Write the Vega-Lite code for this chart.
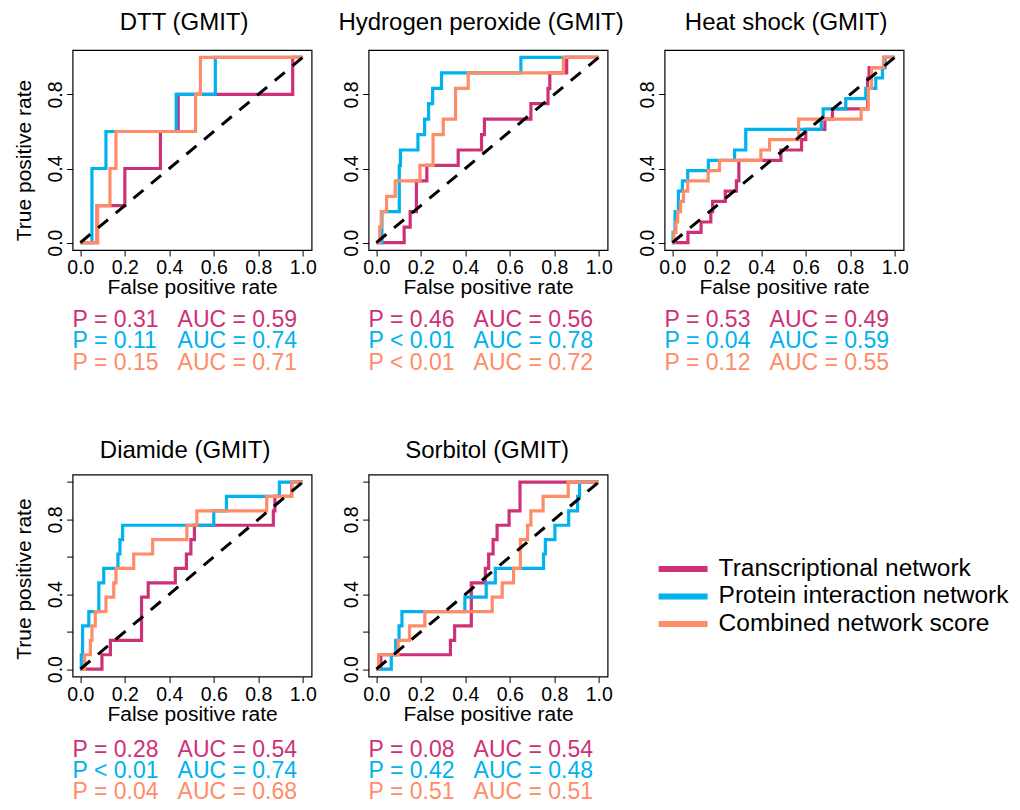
{
 "$schema": "https://vega.github.io/schema/vega-lite/v6.json",
 "background": "white",
 "padding": {"left": 12.6, "top": 10, "right": 0, "bottom": 0},
 "datasets": {
  "roc": [
   {"p":"DTT","s":"T","fpr":0,"tpr":0},{"p":"DTT","s":"T","fpr":0.075,"tpr":0.2},{"p":"DTT","s":"T","fpr":0.2,"tpr":0.4},{"p":"DTT","s":"T","fpr":0.36,"tpr":0.6},{"p":"DTT","s":"T","fpr":0.44,"tpr":0.8},{"p":"DTT","s":"T","fpr":0.955,"tpr":1},{"p":"DTT","s":"T","fpr":1,"tpr":1},
   {"p":"H2O2","s":"T","fpr":0,"tpr":0},{"p":"H2O2","s":"T","fpr":0.125,"tpr":0.0833},{"p":"H2O2","s":"T","fpr":0.152,"tpr":0.1667},{"p":"H2O2","s":"T","fpr":0.18,"tpr":0.3333},{"p":"H2O2","s":"T","fpr":0.227,"tpr":0.4167},{"p":"H2O2","s":"T","fpr":0.368,"tpr":0.5},{"p":"H2O2","s":"T","fpr":0.473,"tpr":0.5833},{"p":"H2O2","s":"T","fpr":0.486,"tpr":0.6667},{"p":"H2O2","s":"T","fpr":0.695,"tpr":0.75},{"p":"H2O2","s":"T","fpr":0.772,"tpr":0.8333},{"p":"H2O2","s":"T","fpr":0.78,"tpr":0.9167},{"p":"H2O2","s":"T","fpr":0.856,"tpr":1},{"p":"H2O2","s":"T","fpr":1,"tpr":1},
   {"p":"Heat","s":"T","fpr":0,"tpr":0},{"p":"Heat","s":"T","fpr":0.07,"tpr":0.0556},{"p":"Heat","s":"T","fpr":0.129,"tpr":0.1111},{"p":"Heat","s":"T","fpr":0.173,"tpr":0.1667},{"p":"Heat","s":"T","fpr":0.181,"tpr":0.2222},{"p":"Heat","s":"T","fpr":0.238,"tpr":0.2778},{"p":"Heat","s":"T","fpr":0.288,"tpr":0.3333},{"p":"Heat","s":"T","fpr":0.299,"tpr":0.4444},{"p":"Heat","s":"T","fpr":0.488,"tpr":0.5},{"p":"Heat","s":"T","fpr":0.581,"tpr":0.5556},{"p":"Heat","s":"T","fpr":0.6,"tpr":0.6111},{"p":"Heat","s":"T","fpr":0.686,"tpr":0.6667},{"p":"Heat","s":"T","fpr":0.72,"tpr":0.7222},{"p":"Heat","s":"T","fpr":0.878,"tpr":0.8889},{"p":"Heat","s":"T","fpr":0.885,"tpr":0.9444},{"p":"Heat","s":"T","fpr":0.95,"tpr":1},{"p":"Heat","s":"T","fpr":1,"tpr":1},
   {"p":"Diamide","s":"T","fpr":0,"tpr":0},{"p":"Diamide","s":"T","fpr":0.097,"tpr":0.0769},{"p":"Diamide","s":"T","fpr":0.135,"tpr":0.1538},{"p":"Diamide","s":"T","fpr":0.275,"tpr":0.3846},{"p":"Diamide","s":"T","fpr":0.305,"tpr":0.4615},{"p":"Diamide","s":"T","fpr":0.427,"tpr":0.5385},{"p":"Diamide","s":"T","fpr":0.477,"tpr":0.6154},{"p":"Diamide","s":"T","fpr":0.497,"tpr":0.6923},{"p":"Diamide","s":"T","fpr":0.513,"tpr":0.7692},{"p":"Diamide","s":"T","fpr":0.868,"tpr":0.8462},{"p":"Diamide","s":"T","fpr":0.875,"tpr":0.9231},{"p":"Diamide","s":"T","fpr":0.95,"tpr":1},{"p":"Diamide","s":"T","fpr":1,"tpr":1},
   {"p":"Sorbitol","s":"T","fpr":0,"tpr":0},{"p":"Sorbitol","s":"T","fpr":0.02,"tpr":0.0769},{"p":"Sorbitol","s":"T","fpr":0.333,"tpr":0.1538},{"p":"Sorbitol","s":"T","fpr":0.352,"tpr":0.2308},{"p":"Sorbitol","s":"T","fpr":0.427,"tpr":0.4615},{"p":"Sorbitol","s":"T","fpr":0.49,"tpr":0.5385},{"p":"Sorbitol","s":"T","fpr":0.505,"tpr":0.6154},{"p":"Sorbitol","s":"T","fpr":0.525,"tpr":0.6923},{"p":"Sorbitol","s":"T","fpr":0.543,"tpr":0.7692},{"p":"Sorbitol","s":"T","fpr":0.597,"tpr":0.8462},{"p":"Sorbitol","s":"T","fpr":0.646,"tpr":1},{"p":"Sorbitol","s":"T","fpr":1,"tpr":1},

   {"p":"DTT","s":"P","fpr":0,"tpr":0},{"p":"DTT","s":"P","fpr":0.052,"tpr":0.4},{"p":"DTT","s":"P","fpr":0.115,"tpr":0.6},{"p":"DTT","s":"P","fpr":0.431,"tpr":0.8},{"p":"DTT","s":"P","fpr":0.607,"tpr":1},{"p":"DTT","s":"P","fpr":1,"tpr":1},
   {"p":"H2O2","s":"P","fpr":0,"tpr":0},{"p":"H2O2","s":"P","fpr":0.025,"tpr":0.1667},{"p":"H2O2","s":"P","fpr":0.103,"tpr":0.4167},{"p":"H2O2","s":"P","fpr":0.108,"tpr":0.5},{"p":"H2O2","s":"P","fpr":0.187,"tpr":0.5833},{"p":"H2O2","s":"P","fpr":0.217,"tpr":0.6667},{"p":"H2O2","s":"P","fpr":0.235,"tpr":0.75},{"p":"H2O2","s":"P","fpr":0.253,"tpr":0.8333},{"p":"H2O2","s":"P","fpr":0.293,"tpr":0.9167},{"p":"H2O2","s":"P","fpr":0.65,"tpr":1},{"p":"H2O2","s":"P","fpr":1,"tpr":1},
   {"p":"Heat","s":"P","fpr":0,"tpr":0},{"p":"Heat","s":"P","fpr":0.003,"tpr":0.0556},{"p":"Heat","s":"P","fpr":0.012,"tpr":0.1667},{"p":"Heat","s":"P","fpr":0.027,"tpr":0.2778},{"p":"Heat","s":"P","fpr":0.045,"tpr":0.3333},{"p":"Heat","s":"P","fpr":0.069,"tpr":0.3889},{"p":"Heat","s":"P","fpr":0.162,"tpr":0.4444},{"p":"Heat","s":"P","fpr":0.28,"tpr":0.5},{"p":"Heat","s":"P","fpr":0.33,"tpr":0.6111},{"p":"Heat","s":"P","fpr":0.67,"tpr":0.6667},{"p":"Heat","s":"P","fpr":0.678,"tpr":0.7222},{"p":"Heat","s":"P","fpr":0.78,"tpr":0.7778},{"p":"Heat","s":"P","fpr":0.87,"tpr":0.8333},{"p":"Heat","s":"P","fpr":0.915,"tpr":0.8889},{"p":"Heat","s":"P","fpr":0.945,"tpr":0.9444},{"p":"Heat","s":"P","fpr":0.957,"tpr":1},{"p":"Heat","s":"P","fpr":1,"tpr":1},
   {"p":"Diamide","s":"P","fpr":0,"tpr":0},{"p":"Diamide","s":"P","fpr":0.004,"tpr":0.0769},{"p":"Diamide","s":"P","fpr":0.01,"tpr":0.2308},{"p":"Diamide","s":"P","fpr":0.038,"tpr":0.3077},{"p":"Diamide","s":"P","fpr":0.083,"tpr":0.4615},{"p":"Diamide","s":"P","fpr":0.105,"tpr":0.5385},{"p":"Diamide","s":"P","fpr":0.169,"tpr":0.6154},{"p":"Diamide","s":"P","fpr":0.178,"tpr":0.6923},{"p":"Diamide","s":"P","fpr":0.19,"tpr":0.7692},{"p":"Diamide","s":"P","fpr":0.6,"tpr":0.8462},{"p":"Diamide","s":"P","fpr":0.657,"tpr":0.9231},{"p":"Diamide","s":"P","fpr":0.895,"tpr":1},{"p":"Diamide","s":"P","fpr":1,"tpr":1},
   {"p":"Sorbitol","s":"P","fpr":0,"tpr":0},{"p":"Sorbitol","s":"P","fpr":0.067,"tpr":0.0769},{"p":"Sorbitol","s":"P","fpr":0.087,"tpr":0.1538},{"p":"Sorbitol","s":"P","fpr":0.102,"tpr":0.2308},{"p":"Sorbitol","s":"P","fpr":0.115,"tpr":0.3077},{"p":"Sorbitol","s":"P","fpr":0.398,"tpr":0.3846},{"p":"Sorbitol","s":"P","fpr":0.494,"tpr":0.4615},{"p":"Sorbitol","s":"P","fpr":0.535,"tpr":0.5385},{"p":"Sorbitol","s":"P","fpr":0.752,"tpr":0.6154},{"p":"Sorbitol","s":"P","fpr":0.76,"tpr":0.6923},{"p":"Sorbitol","s":"P","fpr":0.803,"tpr":0.7692},{"p":"Sorbitol","s":"P","fpr":0.865,"tpr":0.8462},{"p":"Sorbitol","s":"P","fpr":0.905,"tpr":0.9231},{"p":"Sorbitol","s":"P","fpr":0.914,"tpr":1},{"p":"Sorbitol","s":"P","fpr":1,"tpr":1},

   {"p":"DTT","s":"C","fpr":0,"tpr":0},{"p":"DTT","s":"C","fpr":0.078,"tpr":0.2},{"p":"DTT","s":"C","fpr":0.133,"tpr":0.4},{"p":"DTT","s":"C","fpr":0.16,"tpr":0.6},{"p":"DTT","s":"C","fpr":0.518,"tpr":0.8},{"p":"DTT","s":"C","fpr":0.54,"tpr":1},{"p":"DTT","s":"C","fpr":1,"tpr":1},
   {"p":"H2O2","s":"C","fpr":0,"tpr":0},{"p":"H2O2","s":"C","fpr":0.015,"tpr":0.0833},{"p":"H2O2","s":"C","fpr":0.022,"tpr":0.1667},{"p":"H2O2","s":"C","fpr":0.046,"tpr":0.25},{"p":"H2O2","s":"C","fpr":0.085,"tpr":0.3333},{"p":"H2O2","s":"C","fpr":0.196,"tpr":0.4167},{"p":"H2O2","s":"C","fpr":0.255,"tpr":0.5833},{"p":"H2O2","s":"C","fpr":0.301,"tpr":0.6667},{"p":"H2O2","s":"C","fpr":0.356,"tpr":0.8333},{"p":"H2O2","s":"C","fpr":0.413,"tpr":0.9167},{"p":"H2O2","s":"C","fpr":0.841,"tpr":1},{"p":"H2O2","s":"C","fpr":1,"tpr":1},
   {"p":"Heat","s":"C","fpr":0,"tpr":0},{"p":"Heat","s":"C","fpr":0.007,"tpr":0.0556},{"p":"Heat","s":"C","fpr":0.016,"tpr":0.1111},{"p":"Heat","s":"C","fpr":0.024,"tpr":0.1667},{"p":"Heat","s":"C","fpr":0.037,"tpr":0.2222},{"p":"Heat","s":"C","fpr":0.05,"tpr":0.2778},{"p":"Heat","s":"C","fpr":0.069,"tpr":0.3333},{"p":"Heat","s":"C","fpr":0.161,"tpr":0.3889},{"p":"Heat","s":"C","fpr":0.212,"tpr":0.4444},{"p":"Heat","s":"C","fpr":0.398,"tpr":0.5},{"p":"Heat","s":"C","fpr":0.437,"tpr":0.5556},{"p":"Heat","s":"C","fpr":0.568,"tpr":0.6667},{"p":"Heat","s":"C","fpr":0.849,"tpr":0.7222},{"p":"Heat","s":"C","fpr":0.881,"tpr":0.8333},{"p":"Heat","s":"C","fpr":0.896,"tpr":0.9444},{"p":"Heat","s":"C","fpr":0.95,"tpr":1},{"p":"Heat","s":"C","fpr":1,"tpr":1},
   {"p":"Diamide","s":"C","fpr":0,"tpr":0},{"p":"Diamide","s":"C","fpr":0.019,"tpr":0.0769},{"p":"Diamide","s":"C","fpr":0.045,"tpr":0.1538},{"p":"Diamide","s":"C","fpr":0.052,"tpr":0.2308},{"p":"Diamide","s":"C","fpr":0.067,"tpr":0.3077},{"p":"Diamide","s":"C","fpr":0.115,"tpr":0.3846},{"p":"Diamide","s":"C","fpr":0.15,"tpr":0.4615},{"p":"Diamide","s":"C","fpr":0.16,"tpr":0.5385},{"p":"Diamide","s":"C","fpr":0.24,"tpr":0.6154},{"p":"Diamide","s":"C","fpr":0.325,"tpr":0.6923},{"p":"Diamide","s":"C","fpr":0.479,"tpr":0.7692},{"p":"Diamide","s":"C","fpr":0.524,"tpr":0.8462},{"p":"Diamide","s":"C","fpr":0.838,"tpr":0.9231},{"p":"Diamide","s":"C","fpr":0.951,"tpr":1},{"p":"Diamide","s":"C","fpr":1,"tpr":1},
   {"p":"Sorbitol","s":"C","fpr":0,"tpr":0},{"p":"Sorbitol","s":"C","fpr":0.01,"tpr":0.0769},{"p":"Sorbitol","s":"C","fpr":0.098,"tpr":0.1538},{"p":"Sorbitol","s":"C","fpr":0.149,"tpr":0.2308},{"p":"Sorbitol","s":"C","fpr":0.218,"tpr":0.3077},{"p":"Sorbitol","s":"C","fpr":0.521,"tpr":0.3846},{"p":"Sorbitol","s":"C","fpr":0.566,"tpr":0.4615},{"p":"Sorbitol","s":"C","fpr":0.617,"tpr":0.5385},{"p":"Sorbitol","s":"C","fpr":0.648,"tpr":0.6923},{"p":"Sorbitol","s":"C","fpr":0.68,"tpr":0.7692},{"p":"Sorbitol","s":"C","fpr":0.695,"tpr":0.8462},{"p":"Sorbitol","s":"C","fpr":0.75,"tpr":0.9231},{"p":"Sorbitol","s":"C","fpr":0.863,"tpr":1},{"p":"Sorbitol","s":"C","fpr":1,"tpr":1}
  ],
  "diag": [{"fpr":0,"tpr":0},{"fpr":1,"tpr":1}],
  "stats": [
   {"p":"DTT","s":"T","k":"P","t":"P = 0.31"},{"p":"DTT","s":"T","k":"AUC","t":"AUC = 0.59"},
   {"p":"DTT","s":"P","k":"P","t":"P = 0.11"},{"p":"DTT","s":"P","k":"AUC","t":"AUC = 0.74"},
   {"p":"DTT","s":"C","k":"P","t":"P = 0.15"},{"p":"DTT","s":"C","k":"AUC","t":"AUC = 0.71"},
   {"p":"H2O2","s":"T","k":"P","t":"P = 0.46"},{"p":"H2O2","s":"T","k":"AUC","t":"AUC = 0.56"},
   {"p":"H2O2","s":"P","k":"P","t":"P < 0.01"},{"p":"H2O2","s":"P","k":"AUC","t":"AUC = 0.78"},
   {"p":"H2O2","s":"C","k":"P","t":"P < 0.01"},{"p":"H2O2","s":"C","k":"AUC","t":"AUC = 0.72"},
   {"p":"Heat","s":"T","k":"P","t":"P = 0.53"},{"p":"Heat","s":"T","k":"AUC","t":"AUC = 0.49"},
   {"p":"Heat","s":"P","k":"P","t":"P = 0.04"},{"p":"Heat","s":"P","k":"AUC","t":"AUC = 0.59"},
   {"p":"Heat","s":"C","k":"P","t":"P = 0.12"},{"p":"Heat","s":"C","k":"AUC","t":"AUC = 0.55"},
   {"p":"Diamide","s":"T","k":"P","t":"P = 0.28"},{"p":"Diamide","s":"T","k":"AUC","t":"AUC = 0.54"},
   {"p":"Diamide","s":"P","k":"P","t":"P < 0.01"},{"p":"Diamide","s":"P","k":"AUC","t":"AUC = 0.74"},
   {"p":"Diamide","s":"C","k":"P","t":"P = 0.04"},{"p":"Diamide","s":"C","k":"AUC","t":"AUC = 0.68"},
   {"p":"Sorbitol","s":"T","k":"P","t":"P = 0.08"},{"p":"Sorbitol","s":"T","k":"AUC","t":"AUC = 0.54"},
   {"p":"Sorbitol","s":"P","k":"P","t":"P = 0.42"},{"p":"Sorbitol","s":"P","k":"AUC","t":"AUC = 0.48"},
   {"p":"Sorbitol","s":"C","k":"P","t":"P = 0.51"},{"p":"Sorbitol","s":"C","k":"AUC","t":"AUC = 0.51"}
  ]
 },
 "columns": 3,
 "bounds": "flush",
 "spacing": {"row": 66.3, "column": 57},
 "concat": [
  {"width": 239, "height": 200, "title": {"text": "DTT (GMIT)", "dx": -8, "offset": 15},
   "layer": [
    {"data": {"name": "roc"}, "transform": [{"filter": "datum.p == 'DTT'"}],
     "mark": {"type": "line", "interpolate": "step-after", "strokeWidth": 3.2},
     "encoding": {
      "x": {"field": "fpr", "type": "quantitative", "scale": {"domain": [-0.035, 1.04], "nice": false, "zero": false}, "axis": {"values": [0,0.2,0.4,0.6,0.8,1], "format": ".1f", "title": "False positive rate"}},
      "y": {"field": "tpr", "type": "quantitative", "scale": {"domain": [-0.04, 1.04], "nice": false, "zero": false}, "axis": {"values": [0,0.2,0.4,0.6,0.8,1], "labelExpr": "(datum.value == 0 || datum.value == 0.4 || datum.value == 0.8) ? format(datum.value, '.1f') : ''", "title": "True positive rate", "titleY": 110}},
      "color": {"field": "s", "type": "nominal", "scale": {"domain": ["T","P","C"], "range": ["#CD3278","#00B2EE","#FF8C69"]}, "legend": {"title": null, "labelExpr": "datum.label == 'T' ? 'Transcriptional network' : datum.label == 'P' ? 'Protein interaction network' : 'Combined network score'"}}
     }},
    {"data": {"name": "diag"}, "mark": {"type": "line", "color": "black", "strokeWidth": 3, "strokeDash": [13, 10]},
     "encoding": {"x": {"field": "fpr", "type": "quantitative"}, "y": {"field": "tpr", "type": "quantitative"}}}
   ]},
  {"width": 239, "height": 200, "title": {"text": "Hydrogen peroxide (GMIT)", "dx": -7, "offset": 15},
   "layer": [
    {"data": {"name": "roc"}, "transform": [{"filter": "datum.p == 'H2O2'"}],
     "mark": {"type": "line", "interpolate": "step-after", "strokeWidth": 3.2},
     "encoding": {
      "x": {"field": "fpr", "type": "quantitative", "scale": {"domain": [-0.035, 1.04], "nice": false, "zero": false}, "axis": {"values": [0,0.2,0.4,0.6,0.8,1], "format": ".1f", "title": "False positive rate"}},
      "y": {"field": "tpr", "type": "quantitative", "scale": {"domain": [-0.04, 1.04], "nice": false, "zero": false}, "axis": {"values": [0,0.2,0.4,0.6,0.8,1], "labelExpr": "(datum.value == 0 || datum.value == 0.4 || datum.value == 0.8) ? format(datum.value, '.1f') : ''", "title": null}},
      "color": {"field": "s", "type": "nominal", "scale": {"domain": ["T","P","C"], "range": ["#CD3278","#00B2EE","#FF8C69"]}, "legend": {"title": null, "labelExpr": "datum.label == 'T' ? 'Transcriptional network' : datum.label == 'P' ? 'Protein interaction network' : 'Combined network score'"}}
     }},
    {"data": {"name": "diag"}, "mark": {"type": "line", "color": "black", "strokeWidth": 3, "strokeDash": [13, 10]},
     "encoding": {"x": {"field": "fpr", "type": "quantitative"}, "y": {"field": "tpr", "type": "quantitative"}}}
   ]},
  {"width": 239, "height": 200, "title": {"text": "Heat shock (GMIT)", "dx": 2, "offset": 15},
   "layer": [
    {"data": {"name": "roc"}, "transform": [{"filter": "datum.p == 'Heat'"}],
     "mark": {"type": "line", "interpolate": "step-after", "strokeWidth": 3.2},
     "encoding": {
      "x": {"field": "fpr", "type": "quantitative", "scale": {"domain": [-0.035, 1.04], "nice": false, "zero": false}, "axis": {"values": [0,0.2,0.4,0.6,0.8,1], "format": ".1f", "title": "False positive rate"}},
      "y": {"field": "tpr", "type": "quantitative", "scale": {"domain": [-0.04, 1.04], "nice": false, "zero": false}, "axis": {"values": [0,0.2,0.4,0.6,0.8,1], "labelExpr": "(datum.value == 0 || datum.value == 0.4 || datum.value == 0.8) ? format(datum.value, '.1f') : ''", "title": null}},
      "color": {"field": "s", "type": "nominal", "scale": {"domain": ["T","P","C"], "range": ["#CD3278","#00B2EE","#FF8C69"]}, "legend": {"title": null, "labelExpr": "datum.label == 'T' ? 'Transcriptional network' : datum.label == 'P' ? 'Protein interaction network' : 'Combined network score'"}}
     }},
    {"data": {"name": "diag"}, "mark": {"type": "line", "color": "black", "strokeWidth": 3, "strokeDash": [13, 10]},
     "encoding": {"x": {"field": "fpr", "type": "quantitative"}, "y": {"field": "tpr", "type": "quantitative"}}}
   ]},
  {"width": 239, "height": 91.2, "view": {"stroke": null}, "data": {"name": "stats"}, "transform": [{"filter": "datum.p == 'DTT'"}],
   "mark": {"type": "text", "fontSize": 23, "align": "left", "baseline": "alphabetic"},
   "encoding": {
    "x": {"field": "k", "type": "nominal", "scale": {"type": "point", "domain": ["P","AUC"], "padding": 0.638, "align": 0}, "axis": null},
    "y": {"field": "s", "type": "nominal", "scale": {"type": "band", "domain": ["T","P","C"], "paddingInner": 0, "paddingOuter": 0.631, "align": 0}, "axis": null},
    "text": {"field": "t", "type": "nominal"},
    "color": {"field": "s", "type": "nominal", "scale": {"domain": ["T","P","C"], "range": ["#CD3278","#00B2EE","#FF8C69"]}, "legend": null}
   }},
  {"width": 239, "height": 91.2, "view": {"stroke": null}, "data": {"name": "stats"}, "transform": [{"filter": "datum.p == 'H2O2'"}],
   "mark": {"type": "text", "fontSize": 23, "align": "left", "baseline": "alphabetic"},
   "encoding": {
    "x": {"field": "k", "type": "nominal", "scale": {"type": "point", "domain": ["P","AUC"], "padding": 0.638, "align": 0}, "axis": null},
    "y": {"field": "s", "type": "nominal", "scale": {"type": "band", "domain": ["T","P","C"], "paddingInner": 0, "paddingOuter": 0.631, "align": 0}, "axis": null},
    "text": {"field": "t", "type": "nominal"},
    "color": {"field": "s", "type": "nominal", "scale": {"domain": ["T","P","C"], "range": ["#CD3278","#00B2EE","#FF8C69"]}, "legend": null}
   }},
  {"width": 239, "height": 91.2, "view": {"stroke": null}, "data": {"name": "stats"}, "transform": [{"filter": "datum.p == 'Heat'"}],
   "mark": {"type": "text", "fontSize": 23, "align": "left", "baseline": "alphabetic"},
   "encoding": {
    "x": {"field": "k", "type": "nominal", "scale": {"type": "point", "domain": ["P","AUC"], "padding": 0.638, "align": 0}, "axis": null},
    "y": {"field": "s", "type": "nominal", "scale": {"type": "band", "domain": ["T","P","C"], "paddingInner": 0, "paddingOuter": 0.631, "align": 0}, "axis": null},
    "text": {"field": "t", "type": "nominal"},
    "color": {"field": "s", "type": "nominal", "scale": {"domain": ["T","P","C"], "range": ["#CD3278","#00B2EE","#FF8C69"]}, "legend": null}
   }},
  {"width": 239, "height": 202, "title": {"text": "Diamide (GMIT)", "dx": -7, "offset": 12},
   "layer": [
    {"data": {"name": "roc"}, "transform": [{"filter": "datum.p == 'Diamide'"}],
     "mark": {"type": "line", "interpolate": "step-after", "strokeWidth": 3.2},
     "encoding": {
      "x": {"field": "fpr", "type": "quantitative", "scale": {"domain": [-0.035, 1.04], "nice": false, "zero": false}, "axis": {"values": [0,0.2,0.4,0.6,0.8,1], "format": ".1f", "title": "False positive rate"}},
      "y": {"field": "tpr", "type": "quantitative", "scale": {"domain": [-0.04, 1.04], "nice": false, "zero": false}, "axis": {"values": [0,0.2,0.4,0.6,0.8,1], "labelExpr": "(datum.value == 0 || datum.value == 0.4 || datum.value == 0.8) ? format(datum.value, '.1f') : ''", "title": "True positive rate", "titleY": 104}},
      "color": {"field": "s", "type": "nominal", "scale": {"domain": ["T","P","C"], "range": ["#CD3278","#00B2EE","#FF8C69"]}, "legend": {"title": null, "labelExpr": "datum.label == 'T' ? 'Transcriptional network' : datum.label == 'P' ? 'Protein interaction network' : 'Combined network score'"}}
     }},
    {"data": {"name": "diag"}, "mark": {"type": "line", "color": "black", "strokeWidth": 3, "strokeDash": [13, 10]},
     "encoding": {"x": {"field": "fpr", "type": "quantitative"}, "y": {"field": "tpr", "type": "quantitative"}}}
   ]},
  {"width": 239, "height": 202, "title": {"text": "Sorbitol (GMIT)", "dx": -1, "offset": 12},
   "layer": [
    {"data": {"name": "roc"}, "transform": [{"filter": "datum.p == 'Sorbitol'"}],
     "mark": {"type": "line", "interpolate": "step-after", "strokeWidth": 3.2},
     "encoding": {
      "x": {"field": "fpr", "type": "quantitative", "scale": {"domain": [-0.035, 1.04], "nice": false, "zero": false}, "axis": {"values": [0,0.2,0.4,0.6,0.8,1], "format": ".1f", "title": "False positive rate"}},
      "y": {"field": "tpr", "type": "quantitative", "scale": {"domain": [-0.04, 1.04], "nice": false, "zero": false}, "axis": {"values": [0,0.2,0.4,0.6,0.8,1], "labelExpr": "(datum.value == 0 || datum.value == 0.4 || datum.value == 0.8) ? format(datum.value, '.1f') : ''", "title": null}},
      "color": {"field": "s", "type": "nominal", "scale": {"domain": ["T","P","C"], "range": ["#CD3278","#00B2EE","#FF8C69"]}, "legend": {"title": null, "labelExpr": "datum.label == 'T' ? 'Transcriptional network' : datum.label == 'P' ? 'Protein interaction network' : 'Combined network score'"}}
     }},
    {"data": {"name": "diag"}, "mark": {"type": "line", "color": "black", "strokeWidth": 3, "strokeDash": [13, 10]},
     "encoding": {"x": {"field": "fpr", "type": "quantitative"}, "y": {"field": "tpr", "type": "quantitative"}}}
   ]},
  {"width": 239, "height": 202, "view": {"stroke": null}, "data": {"values": [{"a": 1}]}, "mark": {"type": "text", "text": ""}, "encoding": {}},
  {"width": 239, "height": 67.2, "view": {"stroke": null}, "data": {"name": "stats"}, "transform": [{"filter": "datum.p == 'Diamide'"}],
   "mark": {"type": "text", "fontSize": 23, "align": "left", "baseline": "alphabetic"},
   "encoding": {
    "x": {"field": "k", "type": "nominal", "scale": {"type": "point", "domain": ["P","AUC"], "padding": 0.638, "align": 0}, "axis": null},
    "y": {"field": "s", "type": "nominal", "scale": {"type": "band", "domain": ["T","P","C"], "paddingInner": 0, "paddingOuter": 0.07, "align": 1}, "axis": null},
    "text": {"field": "t", "type": "nominal"},
    "color": {"field": "s", "type": "nominal", "scale": {"domain": ["T","P","C"], "range": ["#CD3278","#00B2EE","#FF8C69"]}, "legend": null}
   }},
  {"width": 239, "height": 67.2, "view": {"stroke": null}, "data": {"name": "stats"}, "transform": [{"filter": "datum.p == 'Sorbitol'"}],
   "mark": {"type": "text", "fontSize": 23, "align": "left", "baseline": "alphabetic"},
   "encoding": {
    "x": {"field": "k", "type": "nominal", "scale": {"type": "point", "domain": ["P","AUC"], "padding": 0.638, "align": 0}, "axis": null},
    "y": {"field": "s", "type": "nominal", "scale": {"type": "band", "domain": ["T","P","C"], "paddingInner": 0, "paddingOuter": 0.07, "align": 1}, "axis": null},
    "text": {"field": "t", "type": "nominal"},
    "color": {"field": "s", "type": "nominal", "scale": {"domain": ["T","P","C"], "range": ["#CD3278","#00B2EE","#FF8C69"]}, "legend": null}
   }}
 ],
 "config": {
  "font": "Liberation Sans",
  "view": {"stroke": "black", "strokeWidth": 1.2},
  "axis": {"domain": false, "grid": false, "ticks": true, "tickColor": "black", "tickSize": 6, "tickWidth": 1, "labelColor": "black", "labelFont": "Liberation Sans", "labelFontSize": 19.5, "titleFont": "Liberation Sans", "titleFontSize": 21, "titleFontWeight": "normal", "titleColor": "black", "labelOverlap": false, "labelFlush": false},
  "axisX": {"labelPadding": 2.5, "titlePadding": -0.5},
  "axisY": {"labelAngle": 270, "labelAlign": "center", "labelBaseline": "alphabetic", "labelPadding": 5, "titlePadding": 15, "titleBaseline": "alphabetic"},
  "title": {"font": "Liberation Sans", "fontSize": 24, "fontWeight": "normal", "color": "black", "baseline": "alphabetic", "anchor": "middle", "frame": "group"},
  "legend": {"orient": "none", "legendX": 583, "legendY": 506, "symbolType": "stroke", "symbolSize": 2401, "symbolStrokeWidth": 6, "labelFont": "Liberation Sans", "labelFontSize": 24.5, "labelColor": "black", "labelOffset": 8, "clipHeight": 26, "rowPadding": 1.5, "padding": 0, "labelLimit": 500}
 }
}
